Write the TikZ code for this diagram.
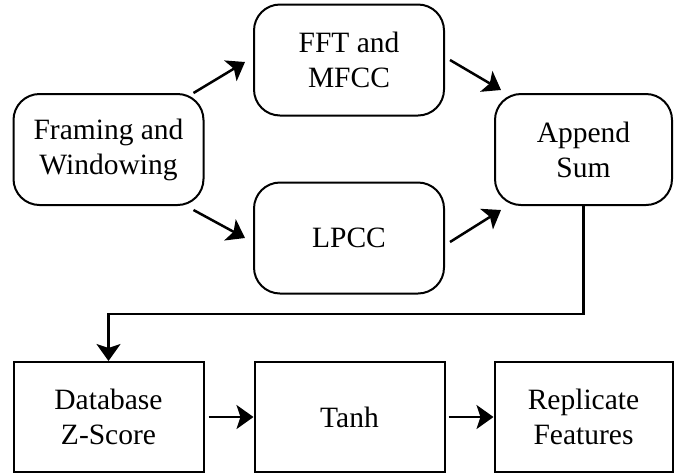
\documentclass[tikz,border=0pt]{standalone}
\usepackage{fontspec}
\setmainfont{Liberation Serif}
\usetikzlibrary{arrows.meta,positioning}

\begin{document}
\begin{tikzpicture}[
  x=1pt, y=-1pt,
  font=\fontsize{29.5}{35}\selectfont,
  rbox/.style={draw, line width=2pt, rounded corners=26pt, align=center, minimum width=190pt, minimum height=111pt, inner sep=0pt},
  sbox/.style={draw, line width=2pt, align=center, minimum width=190pt, minimum height=110pt, inner sep=0pt},
  arr/.style={-{Stealth[length=17pt, width=24pt, inset=4pt]}, line width=2.5pt}
]
\useasboundingbox (0,0) rectangle (676,475);
\node[rbox] (frame) at (108.5,149.5) {Framing and\\Windowing};
\node[rbox] (fft) at (349,60) {FFT and\\MFCC};
\node[rbox, below=65pt of fft] (lpcc) {LPCC};
\node[rbox, minimum width=177pt] (append) at (583.5,149.5) {Append\\Sum};
\node[sbox] (db) at (108.5,417) {Database\\Z-Score};
\node[sbox, right=49pt of db] (tanh) {Tanh};
\node[sbox, right=48pt of tanh, minimum width=178pt] (rep) {Replicate\\Features};
\draw[arr] ([xshift=-11pt]frame.north east) -- ([xshift=-8pt,yshift=-2pt]fft.west);
\draw[arr] ([xshift=-11pt,yshift=-4pt]frame.south east) -- ([xshift=-8pt]lpcc.west);
\draw[arr] ([xshift=5pt]fft.east) -- ([xshift=7pt,yshift=3pt]append.north west);
\draw[arr] ([xshift=5pt,yshift=-4pt]lpcc.east) -- ([xshift=7pt,yshift=-4pt]append.south west);
\draw[arr] (append.south) -- ++(0,108) -| (db.north);
\draw[arr] ([xshift=4pt]db.east) -- (tanh.west);
\draw[arr] ([xshift=3pt]tanh.east) -- (rep.west);
\end{tikzpicture}
\end{document}
